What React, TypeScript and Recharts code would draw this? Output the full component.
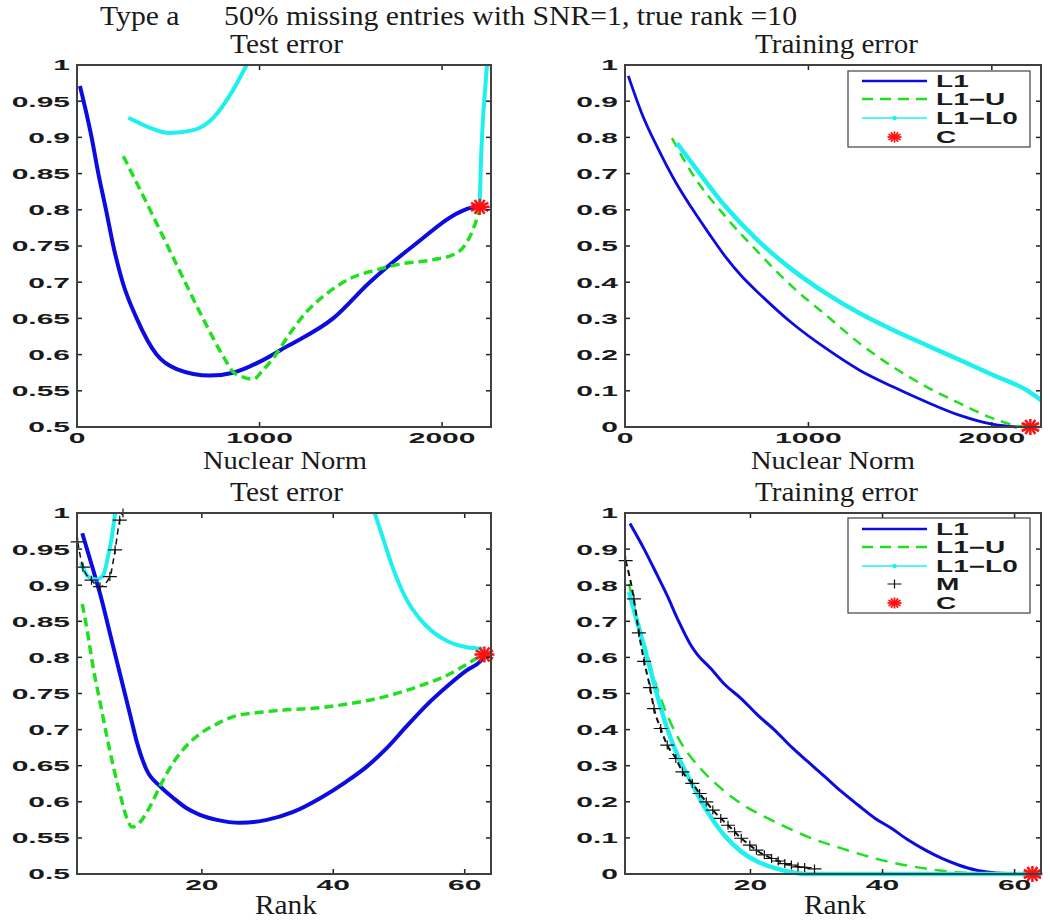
import React from 'react';
import { ComposedChart, Line, Scatter, XAxis, YAxis } from 'recharts';

type Pt = [number, number | null];

const BLUE = '#0c0ce0';
const GREEN = '#1fe01f';
const CYAN = '#1ef0f0';
const RED = '#ff1010';
const BLACK = '#111111';
const FRAME = '#404040';
const TICK_COLOR = '#222222';

const TICK_FONT = "'Liberation Sans', Arial, sans-serif";
const TITLE_FONT = "'Liberation Serif', 'Times New Roman', serif";

// axis ticks
const NN_TICKS = [0, 1000, 2000];
const RANK_TICKS = [20, 40, 60];
const TEST_TICKS = [0.5, 0.55, 0.6, 0.65, 0.7, 0.75, 0.8, 0.85, 0.9, 0.95, 1];
const TRAIN_TICKS = [0, 0.1, 0.2, 0.3, 0.4, 0.5, 0.6, 0.7, 0.8, 0.9, 1];

// Test error vs nuclear norm
const nnTestL1: Pt[] = [
  [16, 0.971], [50, 0.935], [80, 0.9], [117, 0.85], [159, 0.8], [199, 0.75], [250, 0.7],
  [327, 0.65], [436, 0.6], [546, 0.58], [728, 0.571], [856, 0.575], [1000, 0.59], [1148, 0.611],
  [1403, 0.65], [1604, 0.7], [1841, 0.75], [2124, 0.8], [2190, 0.805],
];
const nnTestL1U: Pt[] = [
  [254, 0.874], [400, 0.8], [550, 0.722], [700, 0.645], [800, 0.598], [856, 0.576], [910, 0.569],
  [965, 0.566], [1020, 0.579], [1075, 0.595], [1166, 0.629], [1257, 0.659], [1367, 0.684],
  [1495, 0.705], [1640, 0.717], [1768, 0.725], [1951, 0.731], [2060, 0.738], [2133, 0.754],
  [2188, 0.786], [2206, 0.802],
];
const nnTestL1L0: Pt[] = [
  [281, 0.927], [340, 0.92], [400, 0.913], [509, 0.906], [637, 0.91], [746, 0.927], [856, 0.966],
  [929, 1.0], [1500, null], [2206, 0.804], [2212, 0.86], [2225, 0.929], [2237, 0.97], [2246, 1.0],
];
const nnTestC: Pt = [2206, 0.804];

// Training error vs nuclear norm
const nnTrainL1: Pt[] = [
  [18, 0.97], [91, 0.867], [183, 0.766], [274, 0.678], [365, 0.604], [457, 0.535], [548, 0.47],
  [639, 0.415], [731, 0.369], [913, 0.286], [1096, 0.217], [1279, 0.157], [1461, 0.111],
  [1644, 0.069], [1826, 0.032], [2009, 0.007], [2137, 0],
];
const nnTrainL1U: Pt[] = [
  [256, 0.798], [365, 0.701], [548, 0.581], [731, 0.48], [913, 0.387], [1096, 0.309],
  [1279, 0.231], [1461, 0.166], [1644, 0.111], [1826, 0.065], [2009, 0.023], [2155, 0.002], [2210, 0],
];
const nnTrainL1L0: Pt[] = [
  [283, 0.784], [365, 0.729], [548, 0.609], [731, 0.512], [913, 0.434], [1096, 0.369],
  [1279, 0.314], [1461, 0.268], [1644, 0.226], [1826, 0.185], [2009, 0.143], [2192, 0.101], [2268, 0.074],
];
const nnTrainC: Pt = [2210, 0];

// Test error vs rank
const rkTestL1: Pt[] = [
  [1.8, 0.972], [3.5, 0.92], [4.6, 0.885], [6.1, 0.83], [7.6, 0.775], [9.1, 0.72], [10.1, 0.683],
  [11.6, 0.644], [13.7, 0.621], [15.7, 0.605], [17.7, 0.591], [19.7, 0.582], [22.3, 0.575],
  [25.8, 0.571], [29.9, 0.575], [33.9, 0.586], [38, 0.605], [42, 0.628], [45, 0.648], [48.1, 0.674],
  [51.1, 0.704], [54.2, 0.734], [57.2, 0.759], [60.3, 0.782], [62.3, 0.794], [63, 0.802],
];
const rkTestL1U: Pt[] = [
  [1.8, 0.874], [2.5, 0.84], [3.5, 0.784], [4.6, 0.734], [5.6, 0.688], [6.6, 0.646], [7.6, 0.609],
  [8.6, 0.577], [9.4, 0.565], [10.6, 0.572], [12.2, 0.595], [13.7, 0.623], [15.7, 0.655],
  [17.7, 0.678], [19.7, 0.694], [22.3, 0.708], [24.8, 0.718], [28.9, 0.724], [32.4, 0.727],
  [37.5, 0.73], [42.5, 0.736], [47.6, 0.745], [52.7, 0.759], [57.7, 0.777], [61.3, 0.796], [62.8, 0.804],
];
const rkTestL1L0: Pt[] = [
  [1.6, 0.931], [2.7, 0.912], [4.0, 0.908], [5.0, 0.914], [5.7, 0.939], [6.3, 0.967], [6.8, 1.0],
  [20, null], [46.3, 1.0], [47.6, 0.964], [49.1, 0.923], [51.1, 0.881], [53.2, 0.853], [55.2, 0.835],
  [57.7, 0.821], [60.3, 0.814], [62.8, 0.812],
];
const rkTestM: Pt[] = [
  [1.1, 0.96], [1.9, 0.925], [3.2, 0.907], [4.5, 0.898], [6.0, 0.912], [6.8, 0.949], [7.5, 0.99], [8.0, 1.0],
];
const rkTestC: Pt = [63, 0.804];

// Training error vs rank
const rkTrainL1: Pt[] = [
  [1.75, 0.971], [3.9, 0.9], [5.9, 0.827], [7.4, 0.771], [8.95, 0.707], [11, 0.633], [12, 0.607],
  [14, 0.569], [16, 0.527], [18.6, 0.486], [21.1, 0.44], [23.7, 0.398], [26.2, 0.352], [28.7, 0.311],
  [31.3, 0.269], [33.8, 0.228], [36.3, 0.191], [38.9, 0.154], [41.4, 0.126], [43.9, 0.094],
  [46.5, 0.066], [49, 0.043], [51.5, 0.025], [54.1, 0.011], [56.6, 0.004], [59.7, 0],
];
const rkTrainL1U: Pt[] = [
  [1.6, 0.804], [2.85, 0.707], [4.4, 0.606], [5.9, 0.513], [7.4, 0.44], [9.4, 0.366], [12, 0.301],
  [15, 0.246], [18.6, 0.195], [23.7, 0.145], [28.7, 0.103], [33.8, 0.071], [38.9, 0.043],
  [43.9, 0.023], [49, 0.009], [54.1, 0.002], [59.1, 0],
];
const rkTrainL1L0: Pt[] = [
  [1.6, 0.781], [2.85, 0.698], [4.4, 0.596], [5.9, 0.494], [7.4, 0.402], [8.95, 0.329], [11, 0.255],
  [13.5, 0.172], [16, 0.108], [18.6, 0.062], [21.1, 0.034], [23.7, 0.016], [26.2, 0.005], [28.7, 0], [64, 0],
];
const rkTrainM: Pt[] = [
  [1.1, 0.868], [2.35, 0.762], [3.1, 0.668], [3.9, 0.589], [4.8, 0.516], [5.4, 0.458], [6.4, 0.403],
  [7.4, 0.357], [8.7, 0.32], [9.7, 0.283], [11.2, 0.251], [12.3, 0.223], [13.3, 0.2], [14.3, 0.177],
  [15.5, 0.154], [16.6, 0.135], [17.6, 0.117], [18.6, 0.099], [19.9, 0.08], [20.9, 0.066], [22.1, 0.053],
  [23.2, 0.043], [24.2, 0.036], [25.2, 0.029], [26.2, 0.025], [27.2, 0.02], [28.2, 0.018], [29.7, 0.014],
];
const rkTrainC: Pt = [62.7, 0];

interface Series {
  data: Pt[];
  color: string;
  width: number;
  dash?: string;
  plus?: boolean;
}

const toRows = (pts: Pt[]) => pts.map(([x, y]) => ({ x, y }));

const TICK_LEN = 5;
const Y_GAP = 7;
const X_GAP = 11;

// y tick label plus inward tick marks on the left and right edges of the box
const YTick = (props: any) => {
  const x = Number(props.x);
  const y = Number(props.y);
  const plotW = Number(props.plotW) || 0;
  const edge = x + Y_GAP;
  return (
    <g>
      <rect x={edge} y={y - 0.75} width={TICK_LEN} height={1.5} fill={TICK_COLOR} />
      <rect x={edge + plotW - TICK_LEN} y={y - 0.75} width={TICK_LEN} height={1.5} fill={TICK_COLOR} />
      <g transform={`translate(${x},${y})`}>
        <text transform="scale(2,1)" textAnchor="end" dy="0.36em" fontSize={15} fontWeight="bold"
          fontFamily={TICK_FONT} fill="#1a1a1a">
          {String(props.payload.value)}
        </text>
      </g>
    </g>
  );
};

// x tick label plus inward tick marks on the bottom and top edges of the box
const XTick = (props: any) => {
  const x = Number(props.x);
  const y = Number(props.y);
  const plotH = Number(props.plotH) || 0;
  const edge = y - X_GAP;
  return (
    <g>
      <rect x={x - 0.75} y={edge - TICK_LEN} width={1.5} height={TICK_LEN} fill={TICK_COLOR} />
      <rect x={x - 0.75} y={edge - plotH} width={1.5} height={TICK_LEN} fill={TICK_COLOR} />
      <g transform={`translate(${x},${y})`}>
        <text transform="scale(2,1)" textAnchor="middle" dy="0.36em" fontSize={15} fontWeight="bold"
          fontFamily={TICK_FONT} fill="#1a1a1a">
          {String(props.payload.value)}
        </text>
      </g>
    </g>
  );
};

const StarShape = (props: any) => {
  const { cx, cy } = props;
  const rx = props.rx ?? 10;
  const ry = props.ry ?? 8;
  const angles = [0, 30, 60, 90, 120, 150];
  return (
    <g>
      {angles.map((a) => {
        const r = (a * Math.PI) / 180;
        return (
          <line key={a} x1={cx - rx * Math.cos(r)} y1={cy - ry * Math.sin(r)}
            x2={cx + rx * Math.cos(r)} y2={cy + ry * Math.sin(r)}
            stroke={RED} strokeWidth={props.sw ?? 2.5} />
        );
      })}
    </g>
  );
};

const PlusDot = (props: any) => {
  const { cx, cy, index } = props;
  if (cx == null || cy == null) return <g key={index} />;
  return (
    <path key={index} d={`M${cx - 7},${cy}H${cx + 7}M${cx},${cy - 4.5}V${cy + 4.5}`}
      stroke={BLACK} strokeWidth={1.2} fill="none" />
  );
};

const CHART_W = 525;
const CHART_H = 462;
const Y_AXIS_W = 60;

interface Margin { top: number; right: number; bottom: number; left: number }

const MARGIN_TL: Margin = { top: 65, right: 34, bottom: 35, left: 17 };
const MARGIN_TR: Margin = { top: 65, right: 9, bottom: 35, left: 40 };
const MARGIN_BL: Margin = { top: 51, right: 34, bottom: 50, left: 17 };
const MARGIN_BR: Margin = { top: 51, right: 9, bottom: 50, left: 40 };

const plotBox = (left: number, top: number, m: Margin) => ({
  x: left + m.left + Y_AXIS_W,
  y: top + m.top,
  w: CHART_W - m.left - m.right - Y_AXIS_W,
  h: CHART_H - m.top - m.bottom,
});

interface PanelProps {
  left: number;
  top: number;
  margin: Margin;
  xDomain: [number, number];
  xTicks: number[];
  yDomain: [number, number];
  yTicks: number[];
  series: Series[];
  star: Pt;
}

function Panel({ left, top, margin, xDomain, xTicks, yDomain, yTicks, series, star }: PanelProps) {
  const box = plotBox(0, 0, margin);
  const m = { top: margin.top, right: margin.right, bottom: margin.bottom - 1, left: margin.left };
  return (
    <div style={{ position: 'absolute', left, top }}>
      <ComposedChart width={CHART_W} height={CHART_H} margin={m}>
        <XAxis xAxisId="b" type="number" dataKey="x" domain={xDomain} ticks={xTicks} interval={0}
          height={1} tickSize={0} tickMargin={X_GAP} axisLine={false} tickLine={false}
          tick={<XTick plotH={box.h} />} />
        <YAxis yAxisId="l" type="number" domain={yDomain} ticks={yTicks} interval={0} width={Y_AXIS_W}
          tickSize={0} tickMargin={Y_GAP} axisLine={false} tickLine={false}
          tick={<YTick plotW={box.w} />} />
        {series.map((s, i) => (
          <Line key={i} xAxisId="b" yAxisId="l" data={toRows(s.data)} dataKey="y" type="monotone"
            stroke={s.color} strokeWidth={s.width} strokeDasharray={s.dash}
            dot={s.plus ? PlusDot : false} activeDot={false} connectNulls={false}
            isAnimationActive={false} />
        ))}
        <Scatter xAxisId="b" yAxisId="l" data={toRows([star])} dataKey="y" shape={StarShape}
          isAnimationActive={false} />
      </ComposedChart>
    </div>
  );
}

interface LegendItem {
  label: string;
  kind: 'solid' | 'dashed' | 'dotline' | 'plus' | 'star';
  color: string;
}

const LEGEND_TOP: LegendItem[] = [
  { label: 'L1', kind: 'solid', color: BLUE },
  { label: 'L1\u2212U', kind: 'dashed', color: GREEN },
  { label: 'L1\u2212L0', kind: 'dotline', color: CYAN },
  { label: 'C', kind: 'star', color: RED },
];
const LEGEND_BOTTOM: LegendItem[] = [
  { label: 'L1', kind: 'solid', color: BLUE },
  { label: 'L1\u2212U', kind: 'dashed', color: GREEN },
  { label: 'L1\u2212L0', kind: 'dotline', color: CYAN },
  { label: 'M', kind: 'plus', color: BLACK },
  { label: 'C', kind: 'star', color: RED },
];

function LegendBox({ x, y, w, h, rows, items }: { x: number; y: number; w: number; h: number; rows: number[]; items: LegendItem[] }) {
  const l1 = x + 14;
  const l2 = x + 79;
  const mid = (l1 + l2) / 2;
  return (
    <g>
      <rect x={x} y={y} width={w} height={h} fill="#fff" stroke={FRAME} strokeWidth={1.2} />
      {items.map((it, i) => {
        const ry = rows[i];
        let sample: React.ReactNode = null;
        if (it.kind === 'solid') {
          sample = <line x1={l1} x2={l2} y1={ry} y2={ry} stroke={it.color} strokeWidth={2.5} />;
        } else if (it.kind === 'dashed') {
          sample = <line x1={l1} x2={l2} y1={ry} y2={ry} stroke={it.color} strokeWidth={2.5} strokeDasharray="11 7" />;
        } else if (it.kind === 'dotline') {
          sample = (
            <g>
              <line x1={l1} x2={l2} y1={ry} y2={ry} stroke={it.color} strokeWidth={1.5} />
              <circle cx={mid} cy={ry} r={2.2} fill={it.color} />
            </g>
          );
        } else if (it.kind === 'plus') {
          sample = <PlusDot cx={mid} cy={ry} index={0} />;
        } else {
          sample = <StarShape cx={mid} cy={ry} rx={7} ry={5.5} sw={1.8} />;
        }
        return (
          <g key={it.label}>
            {sample}
            <g transform={`translate(${x + 88},${ry})`}>
              <text transform="scale(1.7,1)" dy="0.36em" fontSize={16.5} fontWeight="bold"
                fontFamily={TICK_FONT} fill="#1a1a1a">
                {it.label}
              </text>
            </g>
          </g>
        );
      })}
    </g>
  );
}

const BOXES = [
  plotBox(0, 0, MARGIN_TL),
  plotBox(525, 0, MARGIN_TR),
  plotBox(0, 462, MARGIN_BL),
  plotBox(525, 462, MARGIN_BR),
];

export default function App() {
  return (
    <div style={{ position: 'absolute', left: 0, top: 0, width: 1050, height: 924, background: '#fff', overflow: 'hidden' }}>
      <Panel left={0} top={0} margin={MARGIN_TL}
        xDomain={[0, 2268]} xTicks={NN_TICKS} yDomain={[0.5, 1]} yTicks={TEST_TICKS}
        series={[
          { data: nnTestL1, color: BLUE, width: 4 },
          { data: nnTestL1U, color: GREEN, width: 3.5, dash: '9 5' },
          { data: nnTestL1L0, color: CYAN, width: 4 },
        ]}
        star={nnTestC} />
      <Panel left={525} top={0} margin={MARGIN_TR}
        xDomain={[0, 2268]} xTicks={NN_TICKS} yDomain={[0, 1]} yTicks={TRAIN_TICKS}
        series={[
          { data: nnTrainL1, color: BLUE, width: 2.8 },
          { data: nnTrainL1U, color: GREEN, width: 2.5, dash: '10 7' },
          { data: nnTrainL1L0, color: CYAN, width: 4.5 },
        ]}
        star={nnTrainC} />
      <Panel left={0} top={462} margin={MARGIN_BL}
        xDomain={[1, 64]} xTicks={RANK_TICKS} yDomain={[0.5, 1]} yTicks={TEST_TICKS}
        series={[
          { data: rkTestL1, color: BLUE, width: 4 },
          { data: rkTestL1U, color: GREEN, width: 3.5, dash: '9 5' },
          { data: rkTestL1L0, color: CYAN, width: 4 },
          { data: rkTestM, color: BLACK, width: 1.5, dash: '6 4', plus: true },
        ]}
        star={rkTestC} />
      <Panel left={525} top={462} margin={MARGIN_BR}
        xDomain={[1, 64]} xTicks={RANK_TICKS} yDomain={[0, 1]} yTicks={TRAIN_TICKS}
        series={[
          { data: rkTrainL1, color: BLUE, width: 3 },
          { data: rkTrainL1U, color: GREEN, width: 2.5, dash: '12 8' },
          { data: rkTrainL1L0, color: CYAN, width: 4.5 },
          { data: rkTrainM, color: BLACK, width: 2, dash: '6 4', plus: true },
        ]}
        star={rkTrainC} />
      <svg width={1050} height={924} style={{ position: 'absolute', left: 0, top: 0, pointerEvents: 'none' }}>
        <g fontFamily={TITLE_FONT} fill="#1a1a1a" fontSize={28}>
          <text x={100} y={25} textLength={697} lengthAdjust="spacingAndGlyphs" style={{ whiteSpace: 'pre' }}>
            {'Type a      50% missing entries with SNR=1, true rank =10'}
          </text>
          <text x={230} y={53} textLength={113} lengthAdjust="spacingAndGlyphs">Test error</text>
          <text x={755} y={53} textLength={163} lengthAdjust="spacingAndGlyphs">Training error</text>
          <text x={203} y={469} fontSize={26} textLength={164} lengthAdjust="spacingAndGlyphs">Nuclear Norm</text>
          <text x={751} y={469} fontSize={26} textLength={164} lengthAdjust="spacingAndGlyphs">Nuclear Norm</text>
          <text x={230} y={501} textLength={113} lengthAdjust="spacingAndGlyphs">Test error</text>
          <text x={755} y={501} textLength={163} lengthAdjust="spacingAndGlyphs">Training error</text>
          <text x={255} y={914} textLength={62} lengthAdjust="spacingAndGlyphs">Rank</text>
          <text x={804} y={914} textLength={62} lengthAdjust="spacingAndGlyphs">Rank</text>
        </g>
        <LegendBox x={848} y={71} w={182} h={76} rows={[81, 99, 118, 137]} items={LEGEND_TOP} />
        <LegendBox x={848} y={518} w={182} h={95} rows={[529, 547, 566, 584, 603]} items={LEGEND_BOTTOM} />
        {BOXES.map((b, i) => (
          <rect key={i} x={b.x} y={b.y} width={b.w} height={b.h} fill="none" stroke={FRAME} strokeWidth={2} />
        ))}
      </svg>
    </div>
  );
}
